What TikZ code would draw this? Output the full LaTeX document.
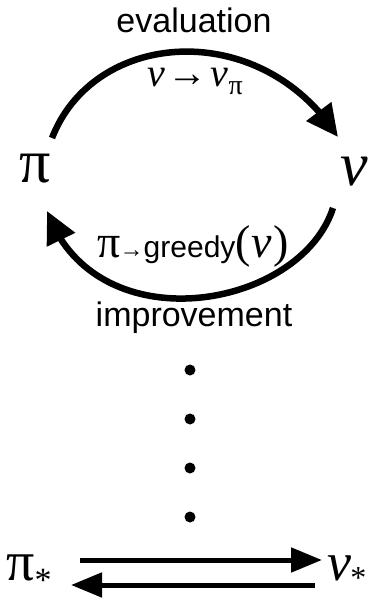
\documentclass[tikz,border=0pt]{standalone}
\usepackage{fontspec}
\setmainfont{Liberation Serif}
\newfontfamily\hv{Liberation Sans}
\usetikzlibrary{arrows.meta,bending}
\tikzset{
  arc/.style={line width=6.5pt,-{Triangle[length=32pt,width=30pt,flex]}},
  straight/.style={line width=5pt,-{Triangle[length=31pt,width=24pt]}},
  sanslabel/.style={anchor=base,inner sep=0pt,font=\hv\fontsize{34}{36}\selectfont},
  mathbig/.style={anchor=base,inner sep=0pt,font=\fontsize{62}{64}\selectfont},
  dot/.style={circle,fill=black,inner sep=0pt,minimum size=11pt}
}
\begin{document}
\begin{tikzpicture}[x=1pt,y=-1pt]
\useasboundingbox (0,0) rectangle (377,598);
% labels
\node[sanslabel] (eval) at (194,32) {evaluation};
\node[sanslabel] (impr) at (194,326) {improvement};
\node[mathbig] (pi) at (35,182) {π};
\node[mathbig] (v) at (354,185) {\itshape v};
\node[anchor=base,inner sep=0pt,font=\fontsize{40}{42}\selectfont] (lab1) at (195,86)
  {{\itshape v}\kern3pt→\kern3pt{\itshape v}\raisebox{-0.2em}{\fontsize{28}{30}\selectfont π}};
\node[anchor=base,inner sep=0pt] (lab2) at (193,257)
  {\fontsize{46}{48}\selectfont π\kern-1pt\fontsize{24}{26}\selectfont→\hv\fontsize{30}{32}\selectfont greedy\rmfamily\fontsize{46}{48}\selectfont(\kern1pt{\itshape v}\kern1pt)};
% arcs
\coordinate (a1s) at (52,138);
\coordinate (a1e) at (338,137);
\draw[arc] (a1s) .. controls (95,28) and (262,18) .. (a1e);
\coordinate (a2s) at (333,208);
\coordinate (a2e) at (47,211);
\draw[arc] (a2s) .. controls (300,310) and (95,345) .. (a2e);
% dots
\node[dot] (d1) at (190,370) {};
\node[dot] (d2) at (190,419) {};
\node[dot] (d3) at (190,468) {};
\node[dot] (d4) at (190,517) {};
% bottom
\node[mathbig,font=\fontsize{56}{58}\selectfont] (pis) at (29,580) {π\smash{\raisebox{-0.2em}{\fontsize{34}{36}\selectfont *}}};
\node[mathbig,font=\fontsize{54}{56}\selectfont] (vs) at (347,580) {{\itshape v}\kern-1pt\raisebox{-0.15em}{\fontsize{32}{34}\selectfont *}};
\coordinate (t1) at (80,560);
\coordinate (t2) at (322,560);
\coordinate (b1) at (315,585);
\coordinate (b2) at (71,585);
\draw[straight] (t1) -- (t2);
\draw[straight] (b1) -- (b2);
\end{tikzpicture}
\end{document}
